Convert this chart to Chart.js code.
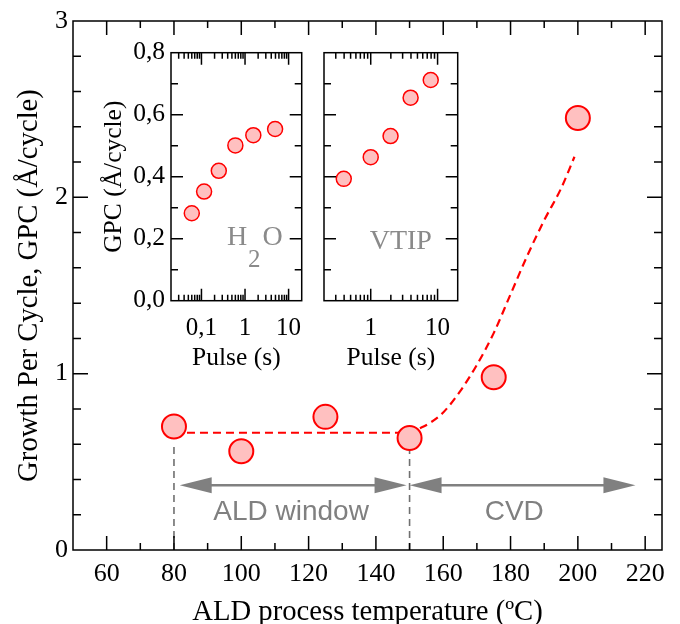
<!DOCTYPE html>
<html><head><meta charset="utf-8">
<script src="https://cdn.jsdelivr.net/npm/chart.js@4.4.1/dist/chart.umd.min.js"></script>
<style>
html,body{margin:0;padding:0;background:#fff;}
#wrap{position:relative;width:680px;height:624px;overflow:hidden;background:#fff;}
canvas{position:absolute;}
</style></head><body>
<div id="wrap">
<canvas id="main" width="680" height="624" style="left:0;top:0;width:680px;height:624px"></canvas>
<canvas id="in1" width="220" height="350" style="left:95px;top:30px;width:220px;height:350px"></canvas>
<canvas id="in2" width="160" height="350" style="left:315px;top:30px;width:160px;height:350px"></canvas>
</div>
<script>
// ---- main chart data ----
const mainTemps = [80, 100, 125, 150, 175, 200];
const mainGPC = [0.70, 0.56, 0.755, 0.635, 0.98, 2.45];
const fitTemps = [80, 150, 153, 156, 160, 165, 170, 175, 180, 185, 190, 195, 199];
const fitGPC = [0.665, 0.665, 0.69, 0.72, 0.78, 0.90, 1.05, 1.23, 1.45, 1.67, 1.87, 2.05, 2.23];
const windowEdges = [80, 150];
const windowEdgeTops = [0.61, 0.57];
const arrowLevel = 0.367;
const arrowStarts = [81.7, 150.0];
const arrowEnds = [149.1, 217.1];
const regionLabels = ['ALD window', 'CVD'];
const regionLabelX = [114.8, 181.1];
const regionLabelY = 0.17;
const mainXTicks = [60, 80, 100, 120, 140, 160, 180, 200, 220];
const mainYTicks = [0, 1, 2, 3];

// ---- inset data ----
const h2oPulse = [0.06, 0.115, 0.25, 0.6, 1.55, 4.9];
const h2oGPC = [0.282, 0.352, 0.419, 0.501, 0.534, 0.554];
const vtipPulse = [0.395, 1.0, 1.98, 3.95, 7.9];
const vtipGPC = [0.393, 0.463, 0.531, 0.655, 0.712];
const insetYTicks = [0, 0.2, 0.4, 0.6, 0.8];
const insetYLabels = ['0,0', '0,2', '0,4', '0,6', '0,8'];
const h2oXTicks = [0.1, 1, 10];
const h2oXLabels = ['0,1', '1', '10'];
const vtipXTicks = [1, 10];
const vtipXLabels = ['1', '10'];

// ---- helpers for tick-mark positions ----
function steps(a, b, s) { const r = []; for (let v = a; v <= b + 1e-9; v += s) r.push(+v.toFixed(6)); return r; }
function logMinors(min, max) { const r = []; for (let k = -3; k <= 3; k++) for (let m = 2; m <= 9; m++) { const v = m * Math.pow(10, k); if (v >= min * 0.999 && v <= max * 1.001) r.push(v); } return r; }

const SERIF = "'Liberation Serif', 'Times New Roman', serif";
const SANS = "'Liberation Sans', Arial, sans-serif";

const frameTicks = {
  id: 'frameTicks',
  afterDraw(chart, args, o) {
    const { ctx, chartArea: a, scales } = chart;
    const xs = scales.x, ys = scales.y;
    ctx.save();
    ctx.setLineDash([]);
    ctx.strokeStyle = '#000';
    ctx.lineWidth = 1.5;
    ctx.beginPath();
    const xt = (list, len) => list.forEach(v => {
      const p = xs.getPixelForValue(v);
      if (p < a.left + 1 || p > a.right - 1) return;
      ctx.moveTo(p, a.bottom); ctx.lineTo(p, a.bottom - len);
      ctx.moveTo(p, a.top); ctx.lineTo(p, a.top + len);
    });
    const yt = (list, len) => list.forEach(v => {
      const p = ys.getPixelForValue(v);
      if (p < a.top + 1 || p > a.bottom - 1) return;
      ctx.moveTo(a.left, p); ctx.lineTo(a.left + len, p);
      ctx.moveTo(a.right, p); ctx.lineTo(a.right - len, p);
    });
    xt(o.xMajor, o.xMajorLen); xt(o.xMinor, o.xMinorLen);
    yt(o.yMajor, o.yMajorLen); yt(o.yMinor, o.yMinorLen);
    ctx.stroke();
    ctx.strokeRect(a.left, a.top, a.right - a.left, a.bottom - a.top);
    ctx.restore();
  }
};

const mainNotes = {
  id: 'mainNotes',
  afterDatasetsDraw(chart) {
    const { ctx, scales: { x, y } } = chart;
    ctx.save();
    ctx.fillStyle = '#808080';
    ctx.strokeStyle = '#808080';
    ctx.lineWidth = 2.6;
    const py = y.getPixelForValue(arrowLevel);
    const headL = 32, headH = 8;
    arrowStarts.forEach((s, i) => {
      const x1 = x.getPixelForValue(s), x2 = x.getPixelForValue(arrowEnds[i]);
      ctx.beginPath(); ctx.moveTo(x1 + headL - 2, py); ctx.lineTo(x2 - headL + 2, py); ctx.stroke();
      ctx.beginPath(); ctx.moveTo(x1, py); ctx.lineTo(x1 + headL, py - headH); ctx.lineTo(x1 + headL, py + headH); ctx.closePath(); ctx.fill();
      ctx.beginPath(); ctx.moveTo(x2, py); ctx.lineTo(x2 - headL, py - headH); ctx.lineTo(x2 - headL, py + headH); ctx.closePath(); ctx.fill();
    });
    ctx.font = '28px ' + SANS;
    ctx.textAlign = 'center';
    ctx.textBaseline = 'alphabetic';
    regionLabels.forEach((t, i) => ctx.fillText(t, x.getPixelForValue(regionLabelX[i]), y.getPixelForValue(regionLabelY)));
    ctx.restore();
  }
};

const insetNote = {
  id: 'insetNote',
  afterDraw(chart, args, o) {
    const { ctx, chartArea: a } = chart;
    ctx.save();
    ctx.fillStyle = '#8a8a8a';
    ctx.textBaseline = 'alphabetic';
    ctx.textAlign = 'left';
    o.parts.forEach(p => {
      ctx.font = p.size + 'px ' + SERIF;
      ctx.fillText(p.t, a.left + p.dx, a.bottom - p.dy);
    });
    ctx.restore();
  }
};

const base = {
  responsive: false, animation: false, events: [],
  plugins: { legend: { display: false }, tooltip: { enabled: false } }
};

// ---- main chart ----
new Chart(document.getElementById('main'), {
  type: 'scatter',
  data: {
    datasets: [
      { data: mainTemps.map((t, i) => ({ x: t, y: mainGPC[i] })), pointRadius: 12, pointBackgroundColor: '#ffc0c0', pointBorderColor: '#ff0000', pointBorderWidth: 2, showLine: false, order: 0 },
      { data: fitTemps.map((t, i) => ({ x: t, y: fitGPC[i] })), showLine: true, borderColor: '#ff0000', borderWidth: 2.2, borderDash: [8, 5], pointRadius: 0, cubicInterpolationMode: 'monotone', order: 2 },
      ...windowEdges.map((e, i) => ({ data: [{ x: e, y: 0 }, { x: e, y: windowEdgeTops[i] }], showLine: true, borderColor: '#707070', borderWidth: 1.6, borderDash: [7, 5], pointRadius: 0, order: 3 }))
    ]
  },
  options: {
    ...base,
    layout: { padding: { left: 0, right: 18, top: 21, bottom: 0 } },
    scales: {
      x: {
        type: 'linear', min: 50, max: 225,
        grid: { display: false, drawTicks: false }, border: { display: false },
        afterBuildTicks: s => { s.ticks = mainXTicks.map(v => ({ value: v })); },
        afterFit: s => { s.height = 74; },
        ticks: { font: { family: SERIF, size: 26 }, color: '#000', padding: 9, maxRotation: 0, autoSkip: false },
        title: { display: true, text: 'ALD process temperature (ºC)', font: { family: SERIF, size: 28.7, lineHeight: 0.8 }, color: '#000', padding: 0 }
      },
      y: {
        type: 'linear', min: 0, max: 3,
        grid: { display: false, drawTicks: false }, border: { display: false },
        afterBuildTicks: s => { s.ticks = mainYTicks.map(v => ({ value: v })); },
        afterFit: s => { s.width = 73; },
        ticks: { font: { family: SERIF, size: 26 }, color: '#000', padding: 5 },
        title: { display: true, text: 'Growth Per Cycle, GPC (Å/cycle)', font: { family: SERIF, size: 28.7, lineHeight: 1 }, color: '#000', padding: { top: 15, bottom: 0 } }
      }
    },
    plugins: {
      ...base.plugins,
      frameTicks: { xMajor: steps(60, 220, 20), xMinor: steps(50, 220, 10).filter(v => v % 20 !== 0), xMajorLen: 14, xMinorLen: 7,
                    yMajor: steps(0, 3, 1), yMinor: steps(0, 3, 0.2).filter(v => Math.abs(v - Math.round(v)) > 1e-6), yMajorLen: 15, yMinorLen: 8 }
    }
  },
  plugins: [frameTicks, mainNotes]
});

function insetConfig(px, py, xMin, xMax, xTicks, xLabels, showY, yWidth, padRight, parts) {
  return {
    type: 'scatter',
    data: { datasets: [{ data: px.map((v, i) => ({ x: v, y: py[i] })), pointRadius: 7.5, pointBackgroundColor: '#ffc0c0', pointBorderColor: '#ff0000', pointBorderWidth: 1.5 }] },
    options: {
      ...base,
      layout: { padding: { left: 0, right: padRight, top: 22.7, bottom: 0 } },
      scales: {
        x: {
          type: 'logarithmic', min: xMin, max: xMax,
          grid: { display: false, drawTicks: false }, border: { display: false },
          afterBuildTicks: s => { s.ticks = xTicks.map(v => ({ value: v })); },
          afterFit: s => { s.height = 79.3; },
          ticks: { font: { family: SERIF, size: 25 }, color: '#000', padding: 13, maxRotation: 0, autoSkip: false, callback: (v, i) => xLabels[i] },
          title: { display: true, text: 'Pulse (s)', font: { family: SERIF, size: 25.5, lineHeight: 1 }, color: '#000', padding: { top: 0, bottom: 9 } }
        },
        y: {
          type: 'linear', min: 0, max: 0.8,
          grid: { display: false, drawTicks: false }, border: { display: false },
          afterBuildTicks: s => { s.ticks = insetYTicks.map(v => ({ value: v })); },
          afterFit: s => { s.width = yWidth; },
          ticks: { display: showY, font: { family: SERIF, size: 25.5 }, color: '#000', padding: 6, callback: (v, i) => insetYLabels[i] },
          title: { display: showY, text: 'GPC (Å/cycle)', font: { family: SERIF, size: 25.5, lineHeight: 1 }, color: '#000', padding: { top: 6.6, bottom: 0 } }
        }
      },
      plugins: {
        ...base.plugins,
        frameTicks: { xMajor: xTicks, xMinor: logMinors(xMin, xMax), xMajorLen: 12, xMinorLen: 6,
                      yMajor: insetYTicks, yMinor: [0.1, 0.3, 0.5, 0.7], yMajorLen: 12, yMinorLen: 7 },
        insetNote: { parts }
      }
    },
    plugins: [frameTicks, insetNote]
  };
}

new Chart(document.getElementById('in1'), insetConfig(h2oPulse, h2oGPC, 0.02, 20, h2oXTicks, h2oXLabels, true, 76, 6.7,
  [{ t: 'H', size: 28, dx: 56, dy: 55.7 }, { t: '2', size: 25, dx: 77, dy: 33.7 }, { t: 'O', size: 28, dx: 91.5, dy: 55.7 }]));
new Chart(document.getElementById('in2'), insetConfig(vtipPulse, vtipGPC, 0.2, 20, vtipXTicks, vtipXLabels, false, 6, 17.3,
  [{ t: 'VTIP', size: 28, dx: 45.7, dy: 51.7 }]));
</script>
</body></html>
